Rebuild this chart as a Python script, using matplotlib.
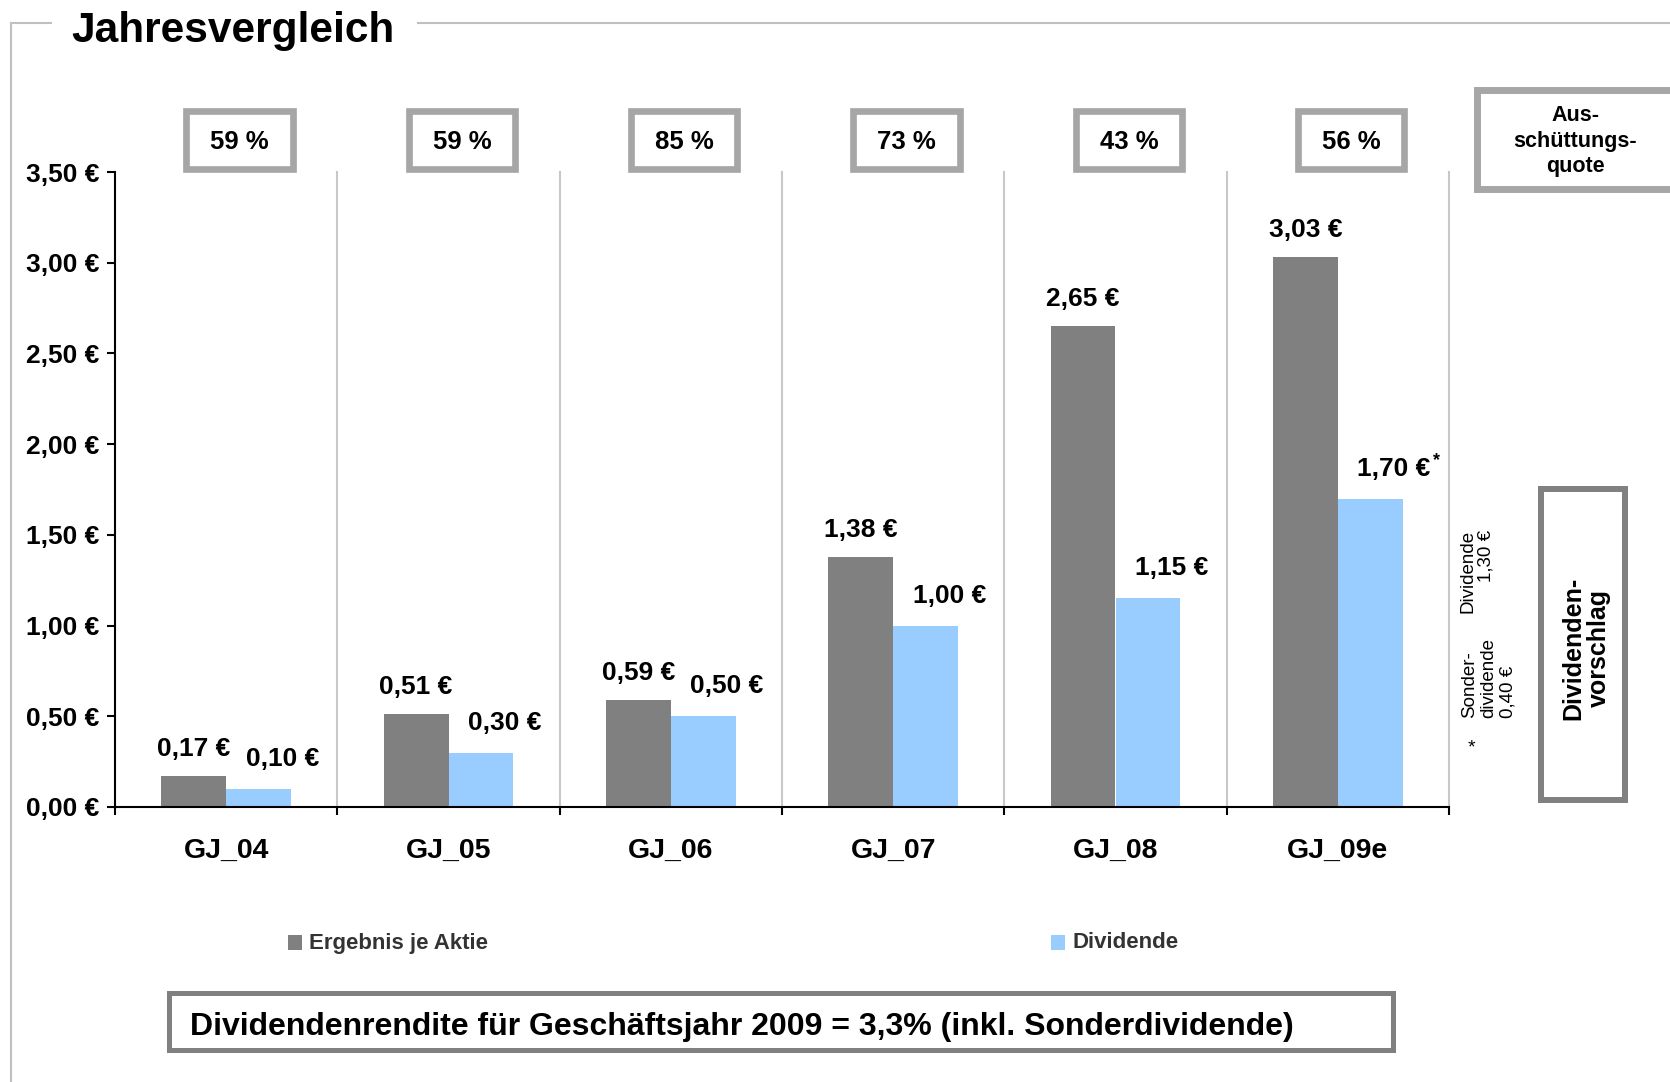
import numpy as np
import matplotlib.pyplot as plt
from matplotlib.patches import Rectangle
from matplotlib.lines import Line2D
from matplotlib import transforms

plt.rcParams['font.family'] = ['Liberation Sans', 'DejaVu Sans']

# data
years = ["GJ_04", "GJ_05", "GJ_06", "GJ_07", "GJ_08", "GJ_09e"]
eps = [0.17, 0.51, 0.59, 1.38, 2.65, 3.03]          # Ergebnis je Aktie
dividend = [0.10, 0.30, 0.50, 1.00, 1.15, 1.70]     # Dividende
payout = [59, 59, 85, 73, 43, 56]                   # Ausschuettungsquote in %
y_ticks = [0.0, 0.5, 1.0, 1.5, 2.0, 2.5, 3.0, 3.5]

gray = "#808080"
blue = "#99ccff"
box_gray = "#a6a6a6"
line_gray = "#c0c0c0"

W, H = 1670, 1082


def fx(px):
    return px / W


def fy(py):
    return 1 - py / H


def euro(v):
    return f"{v:.2f} €".replace(".", ",")


fig = plt.figure(figsize=(W / 100, H / 100), dpi=100)
ax = fig.add_axes([fx(115), fy(807), fx(1449 - 115), (807 - 172) / H])

x = np.arange(len(years))
bw = 0.292
ax.bar(x - bw / 2, eps, bw, color=gray, zorder=2)
ax.bar(x + bw / 2, dividend, bw, color=blue, zorder=2)
ax.set_xlim(-0.5, len(years) - 0.5)
ax.set_ylim(0, 3.5)

# axes styling
ax.set_yticks(y_ticks)
ax.set_yticklabels([euro(v) for v in y_ticks], fontsize=19, fontweight="bold")
ax.set_xticks(np.arange(len(years) + 1) - 0.5)
ax.set_xticklabels([])
ax.set_xticks(x, minor=True)
ax.set_xticklabels(years, minor=True, fontsize=20.5, fontweight="bold")
ax.tick_params(axis="x", which="minor", length=0, pad=22.5)
ax.tick_params(axis="x", which="major", length=6, width=1.5)
ax.tick_params(axis="y", length=6, width=1.5, pad=5)
for s in ["top", "right"]:
    ax.spines[s].set_visible(False)
for s in ["left", "bottom"]:
    ax.spines[s].set_linewidth(1.5)
    ax.spines[s].set_zorder(3)

# category separators
for b in np.arange(1, len(years) + 1) - 0.5:
    ax.axvline(b, color="#c8c8c8", lw=1.5, zorder=1, clip_on=False)

# value labels
for i, v in enumerate(eps):
    ax.annotate(euro(v), (x[i] - bw / 2, v), xytext=(0, 19.5), textcoords="offset points",
                ha="center", va="center", fontsize=19, fontweight="bold")
for i, v in enumerate(dividend):
    ax.annotate(euro(v), (x[i] + bw / 2, v), xytext=(17, 21.5), textcoords="offset points",
                ha="center", va="center", fontsize=19, fontweight="bold")
ax.annotate("*", (x[-1] + bw / 2, dividend[-1]), xytext=(48, 27), textcoords="offset points",
            ha="center", va="center", fontsize=13, fontweight="bold")

# payout ratio boxes above each category
trans = transforms.blended_transform_factory(ax.transData, ax.transAxes)
box_w = 0.477
for i, p in enumerate(payout):
    cx = x[i] + 0.06
    ax.add_patch(Rectangle((cx - box_w / 2, 1.0055), box_w, 0.0898, transform=trans,
                           facecolor="white", edgecolor=box_gray, lw=4.8, clip_on=False))
    ax.text(cx, 1.047, f"{p} %", transform=trans, ha="center", va="center",
            fontsize=18.5, fontweight="bold")

# outer frame with title
fig.add_artist(Line2D([fx(11), fx(11)], [fy(23), fy(1082)], color=line_gray, lw=1.5))
fig.add_artist(Line2D([fx(11), fx(51)], [fy(23), fy(23)], color=line_gray, lw=1.5))
fig.add_artist(Line2D([fx(418), fx(1670)], [fy(23), fy(23)], color=line_gray, lw=1.5))
fig.text(fx(71), fy(31), "Jahresvergleich", fontsize=30.5, fontweight="bold", va="center")

# Ausschuettungsquote box
fig.add_artist(Rectangle((fx(1476.5), fy(188.5)), fx(300), (188.5 - 90.5) / H,
                         transform=fig.transFigure, facecolor="white",
                         edgecolor=box_gray, lw=5))
fig.text(fx(1575), fy(141), "Aus-\nschüttungs-\nquote", ha="center", va="center",
         fontsize=15.5, fontweight="bold", linespacing=1.28)

# Dividendenvorschlag box
fig.add_artist(Rectangle((fx(1541), fy(800)), fx(1625 - 1541), (800 - 489) / H,
                         transform=fig.transFigure, facecolor="white",
                         edgecolor=gray, lw=4.3))
fig.text(fx(1586), fy(648), "Dividenden-\nvorschlag", rotation=90, ha="center", va="center",
         multialignment="center", fontsize=18, fontweight="bold", linespacing=1.1)
fig.text(fx(1477), fy(530), "Dividende\n1,30 €", rotation=90, ha="center", va="top",
         multialignment="right", fontsize=13.5, linespacing=1.15)
fig.text(fx(1489), fy(718), "Sonder-\ndividende\n0,40 €", rotation=90, ha="center",
         va="bottom", multialignment="left", fontsize=13.5, linespacing=1.15)
fig.text(fx(1471), fy(748), "*", ha="center", va="center", fontsize=14)

# legend
fig.add_artist(Rectangle((fx(288), fy(950)), fx(14), 15 / H, transform=fig.transFigure,
                         facecolor=gray, edgecolor="none"))
fig.text(fx(309), fy(943), "Ergebnis je Aktie", va="center", fontsize=16,
         fontweight="bold", color="#333333")
fig.add_artist(Rectangle((fx(1051), fy(950)), fx(14), 15 / H, transform=fig.transFigure,
                         facecolor=blue, edgecolor="none"))
fig.text(fx(1072), fy(943), "Dividende", va="center", fontsize=16,
         fontweight="bold", color="#333333")

# bottom box
fig.add_artist(Rectangle((fx(168.5), fy(1049.5)), fx(1392.5 - 168.5), (1049.5 - 992.5) / H,
                         transform=fig.transFigure, facecolor="white",
                         edgecolor=gray, lw=3.6))
fig.text(fx(190), fy(1027), "Dividendenrendite für Geschäftsjahr 2009 = 3,3% (inkl. Sonderdividende)",
         va="center", fontsize=23, fontweight="bold")

fig.savefig("out.png", dpi=100)
